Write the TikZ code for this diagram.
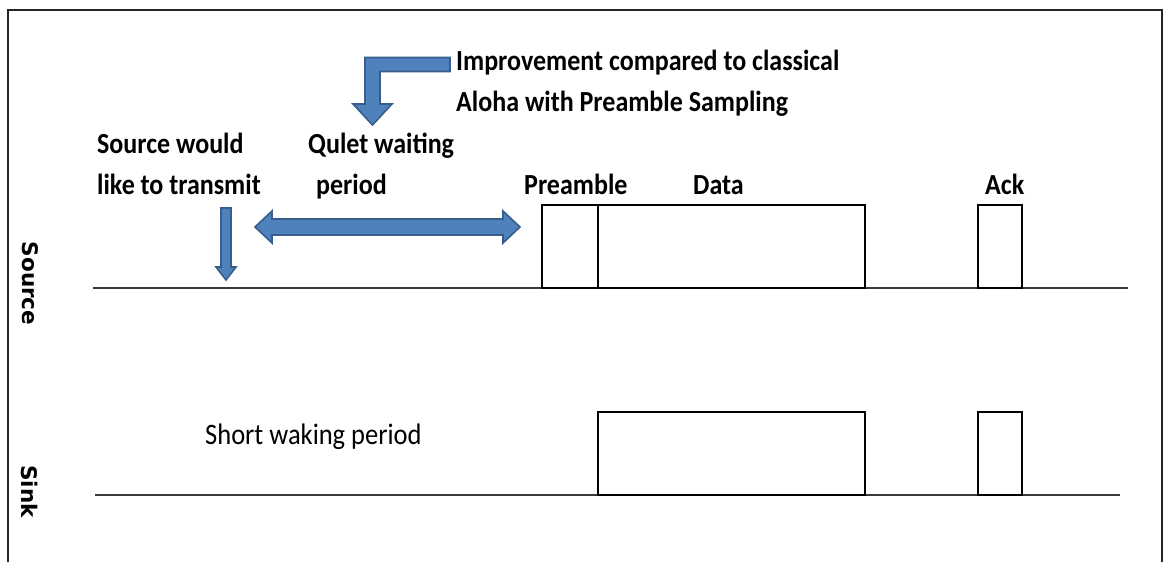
\documentclass[tikz,border=0pt]{standalone}
\usepackage{fontspec}
\usepackage{graphicx}
\setmainfont{Carlito}
\newfontfamily\sidefont{DejaVu Sans}
\newcommand\tallText[1]{\scalebox{1}[1.12]{#1}}
\definecolor{arrowfill}{HTML}{4F81BD}
\definecolor{arrowedge}{HTML}{385D8A}
\definecolor{axisgray}{HTML}{3A3A3A}
\tikzset{
  lbl/.style={inner sep=0pt, anchor=base west, font=\fontsize{26}{31}\selectfont\bfseries},
  plain/.style={inner sep=0pt, anchor=base west, font=\fontsize{26.5}{31}\selectfont},
  sidelbl/.style={inner sep=0pt, rotate=-90, font=\sidefont\fontsize{21.5}{26}\selectfont\bfseries},
  axis/.style={line width=2.4pt, draw=axisgray},
  pulse/.style={draw=black, line width=1.5pt, inner sep=0pt, outer sep=0pt, anchor=south west},
  blockarrow/.style={fill=arrowfill, draw=arrowedge, line width=1.6pt, line join=miter},
  frame/.style={line width=2pt, draw=black!85}
}
\begin{document}
\begin{tikzpicture}[x=1pt, y=-1pt]
\useasboundingbox (0,0) rectangle (1163,562);
% outer frame (open at the bottom)
\draw[frame] (7.5,570) -- (7.5,9.5) -- (1161.5,9.5) -- (1161.5,570);

% row labels
\node[sidelbl] (rowsrc) at (30,283.5) {Source};
\node[sidelbl] (rowsink) at (30,491.5) {Sink};

% time axes
\coordinate (srcstart) at (93,288);
\coordinate (srcend) at (1128,288);
\coordinate (sinkstart) at (95,495);
\coordinate (sinkend) at (1120,495);
\draw[axis] (srcstart) -- (srcend);
\draw[axis] (sinkstart) -- (sinkend);

% source transmissions
\node[pulse, minimum width=56pt, minimum height=83pt] (pre) at (542,288) {};
\node[pulse, minimum width=267pt, minimum height=83pt] (data) at (598,288) {};
\node[pulse, minimum width=44pt, minimum height=83pt] (ack) at (978,288) {};
% sink activity
\node[pulse, minimum width=267pt, minimum height=83pt] (rxdata) at (598,495) {};
\node[pulse, minimum width=44pt, minimum height=83pt] (rxack) at (978,495) {};

% text
\node[lbl] (imp1) at (456,70) {\tallText{Improvement compared to classical}};
\node[lbl] (imp2) at (456,111) {\tallText{Aloha with Preamble Sampling}};
\node[lbl] (want1) at (97,153) {\tallText{Source would}};
\node[lbl] (want2) at (97,194) {\tallText{like to transmit}};
\node[lbl] (quiet1) at (308,153) {\tallText{Qulet waiting}};
\node[lbl] (quiet2) at (316,194) {\tallText{period}};
\node[lbl] (prelbl) at (524,194) {\tallText{Preamble}};
\node[lbl] (datalbl) at (693,194) {\tallText{Data}};
\node[lbl] (acklbl) at (985,194) {\tallText{Ack}};
\node[plain] (wake) at (205,444) {\tallText{Short waking period}};

% block arrows
\draw[blockarrow] (221,208) -- (231,208) -- (231,267) -- (236,267) -- (226,280)
  -- (216,267) -- (221,267) -- cycle;
\draw[blockarrow] (255,227) -- (272,211) -- (272,219) -- (503,219) -- (503,211)
  -- (520,227) -- (503,243) -- (503,235) -- (272,235) -- (272,243) -- cycle;
\draw[blockarrow] (450,57.5) -- (450,71.5) -- (380,71.5) -- (380,104) -- (392,104)
  -- (372.5,125) -- (353,104) -- (365,104) -- (365,57.5) -- cycle;
\end{tikzpicture}
\end{document}
